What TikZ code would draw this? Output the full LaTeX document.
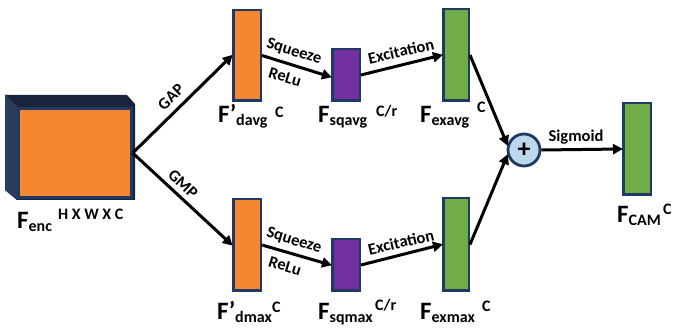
\documentclass[tikz,border=0pt]{standalone}
\usepackage{fontspec}
\setmainfont{Carlito}
\usetikzlibrary{arrows.meta,calc}
\definecolor{navy}{RGB}{31,56,100}
\definecolor{darkface}{RGB}{24,36,62}
\definecolor{sideface}{RGB}{44,60,92}
\definecolor{orangefill}{RGB}{245,135,50}
\definecolor{purplefill}{RGB}{112,48,160}
\definecolor{greenfill}{RGB}{112,173,71}
\definecolor{plusfill}{RGB}{189,215,238}
\newcommand\Fmain[2]{{\fontsize{25}{25}\selectfont #1}\raisebox{-3pt}{\fontsize{16}{16}\selectfont #2}}
\newcommand\Fsup[1]{{\fontsize{16}{16}\selectfont #1}}
\begin{document}
\begin{tikzpicture}[x=1pt,y=-1pt,font=\bfseries,
  bar/.style={draw=navy, line width=2.5pt, inner sep=0pt, minimum width=27.5pt},
  arr/.style={line width=3pt, -{Triangle[length=10pt,width=10pt]}, shorten >=-1pt},
  lab/.style={inner sep=0pt, anchor=base west},
  edgelab/.style={inner sep=0pt, font=\bfseries\fontsize{16.5}{16.5}\selectfont}
]
\useasboundingbox (0,0) rectangle (673,331);
% 3D encoder block
\fill[darkface] (5,95) -- (127,95) -- (135,104) -- (135,200) -- (17,200) -- (5,190) -- cycle;
\fill[sideface] (5,95) -- (17,106) -- (17,200) -- (5,190) -- cycle;
\node[draw=navy, line width=2.5pt, fill=orangefill, inner sep=0pt, minimum width=113pt, minimum height=89pt] (enc) at (75,153) {};
% bars
\node[bar, fill=orangefill, minimum height=90.5pt] (davg) at (247,55.5) {};
\node[bar, fill=purplefill, minimum height=51.5pt] (sqavg) at (346,75) {};
\node[bar, fill=greenfill, minimum height=91.5pt, minimum width=25.5pt] (exavg) at (456,55) {};
\node[bar, fill=orangefill, minimum height=91.5pt] (dmax) at (247,245) {};
\node[bar, fill=purplefill, minimum height=51.5pt] (sqmax) at (346,265) {};
\node[bar, fill=greenfill, minimum height=92.5pt, minimum width=25.5pt] (exmax) at (456,244.5) {};
\node[bar, fill=greenfill, minimum height=91.5pt] (cam) at (637,149) {};
\node[circle, draw=navy, line width=2.8pt, fill=plusfill, minimum size=32pt, inner sep=0pt, font=\bfseries\fontsize{26}{26}\selectfont] (plus) at (524,150) {+};
% arrows
\draw[arr] (enc.east) -- (davg.west);
\draw[arr] (enc.east) -- (dmax.west);
\draw[arr] (davg.east) -- ([yshift=-2pt]sqavg.west);
\draw[arr] (sqavg.east) -- (exavg.west);
\draw[arr] (dmax.east) -- (sqmax.west);
\draw[arr] (sqmax.east) -- (exmax.west);
\draw[arr] (exavg.east) -- (plus.163);
\draw[arr] (exmax.east) -- (plus.197);
\draw[arr] (plus.east) -- (cam.west);
% edge labels
\node[edgelab, rotate=44] (gap) at (171,97) {GAP};
\node[edgelab, rotate=-43] (gmp) at (183,184) {GMP};
\node[edgelab, rotate=-17] (sq1) at (294,52) {Squeeze};
\node[edgelab, rotate=-17] (re1) at (285,77) {ReLu};
\node[edgelab, rotate=13] (ex1) at (401,51) {Excitation};
\node[edgelab, rotate=-17] (sq2) at (294,241) {Squeeze};
\node[edgelab, rotate=-17] (re2) at (285,266) {ReLu};
\node[edgelab, rotate=13] (ex2) at (401,242) {Excitation};
\node[edgelab] (sig) at (576,137) {Sigmoid};
% feature labels
\node[lab] (lenc) at (17,229) {\Fmain{F}{enc}};
\node[lab] (senc) at (58,220) {\Fsup{H X W X C}};
\node[lab] (ldavg) at (218,123) {\Fmain{F’}{davg}};
\node[lab] (sdavg) at (275,118) {\Fsup{C}};
\node[lab] (lsqavg) at (318,123) {\Fmain{F}{sqavg}};
\node[lab] (ssqavg) at (376,117) {\Fsup{C/r}};
\node[lab] (lexavg) at (420,123) {\Fmain{F}{exavg}};
\node[lab] (sexavg) at (477,113) {\Fsup{C}};
\node[lab] (ldmax) at (217,320) {\Fmain{F’}{dmax}};
\node[lab] (sdmax) at (272,313) {\Fsup{C}};
\node[lab] (lsqmax) at (318,320) {\Fmain{F}{sqmax}};
\node[lab] (ssqmax) at (375,311) {\Fsup{C/r}};
\node[lab] (lexmax) at (420,320) {\Fmain{F}{exmax}};
\node[lab] (sexmax) at (482,312) {\Fsup{C}};
\node[lab] (lcam) at (617,223) {\Fmain{F}{CAM}};
\node[lab] (scam) at (663,215) {\Fsup{C}};
\end{tikzpicture}
\end{document}
